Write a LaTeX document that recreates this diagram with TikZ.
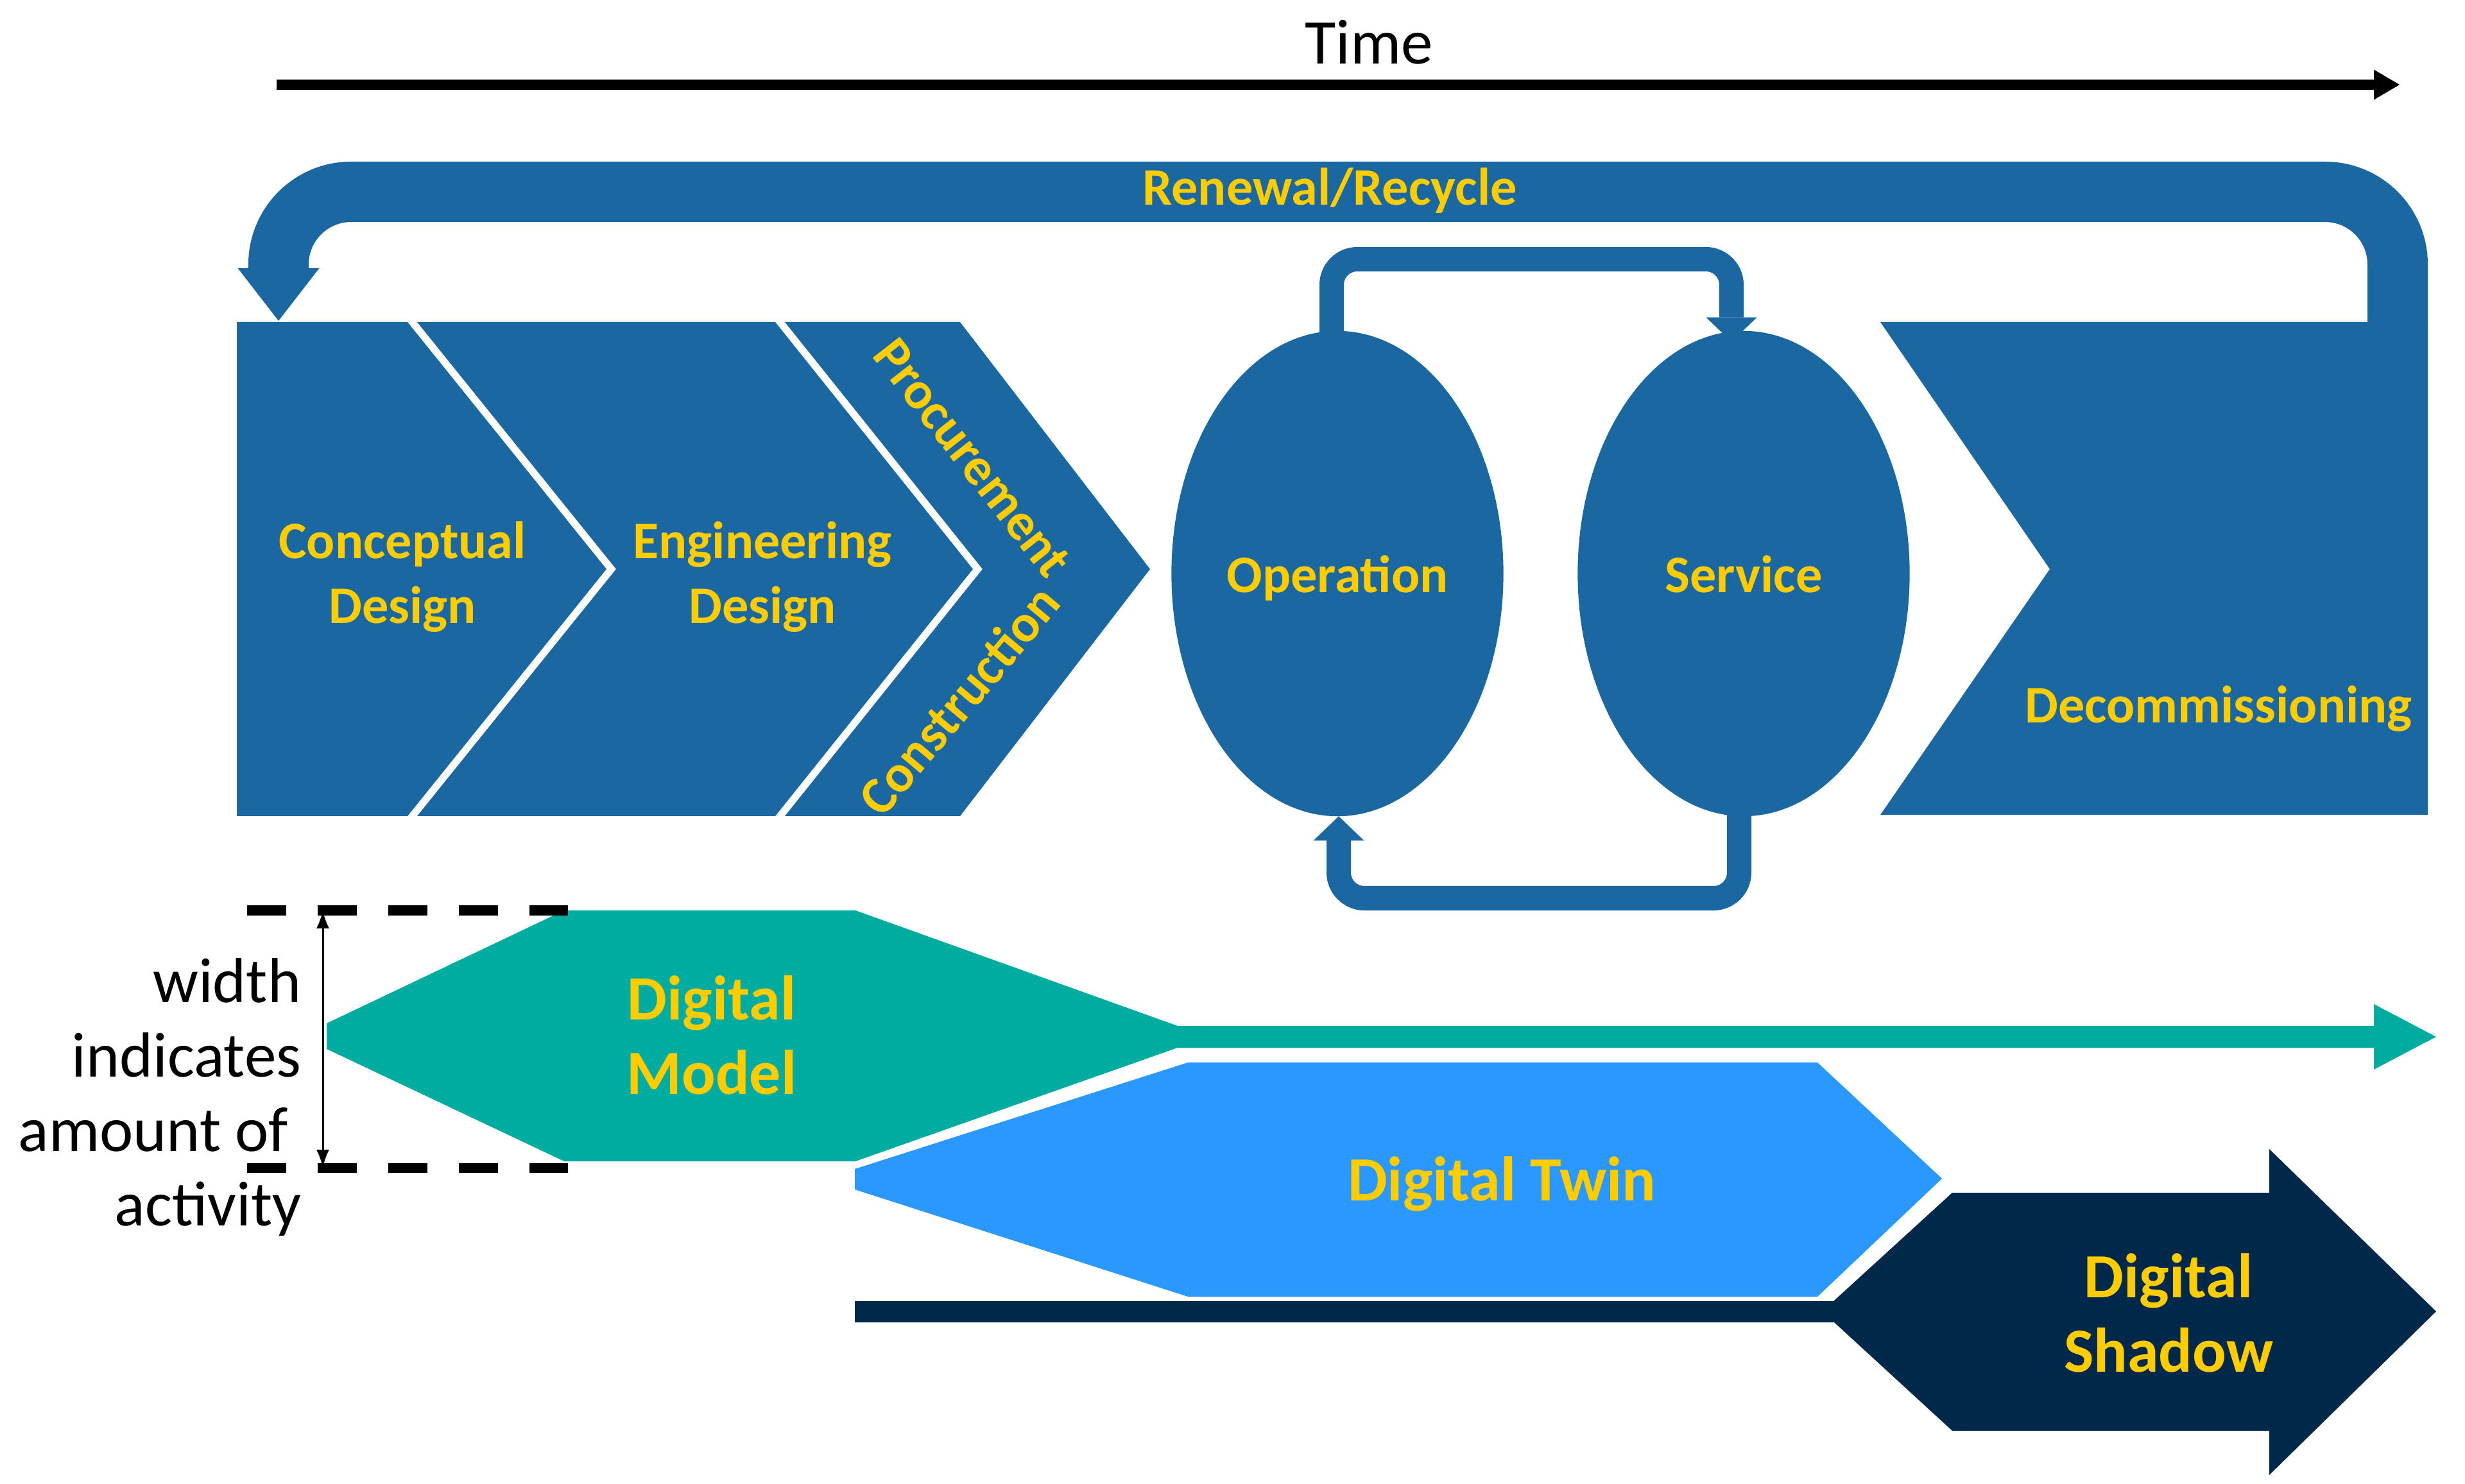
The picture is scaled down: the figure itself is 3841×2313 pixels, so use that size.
\documentclass[tikz,border=0pt]{standalone}
\usepackage{xcolor}
\usepackage{tikz}
\usetikzlibrary{shapes, arrows.meta, positioning}
\usepackage{fontspec}
\setmainfont{Carlito}

\definecolor{phaseblue}{RGB}{26,103,161}
\definecolor{labelyellow}{RGB}{255,204,0}
\definecolor{modelteal}{RGB}{0,172,160}
\definecolor{twinblue}{RGB}{42,152,255}
\definecolor{shadownavy}{RGB}{0,40,75}

\begin{document}
\begin{tikzpicture}[x=0.01cm, y=-0.01cm,
    phaselabel/.style={text=labelyellow, font=\fontsize{23.4pt}{28.5pt}\selectfont\bfseries, align=center, inner sep=0pt},
    twinlabel/.style={text=labelyellow, font=\fontsize{27.9pt}{33pt}\selectfont\bfseries, align=center, inner sep=0pt},
    notelabel/.style={text=black, font=\fontsize{28.2pt}{33pt}\selectfont, align=right, inner sep=0pt},
    stagenode/.style={ellipse, fill=phaseblue, minimum width=5.17cm, minimum height=7.56cm, inner sep=0pt, outer sep=0pt, text height=0.74cm, text depth=0.16cm},
    renewband/.style={draw=phaseblue, line width=0.94cm, rounded corners=1.13cm, -{Triangle[width=1.27cm, length=0.82cm, line width=0pt]}},
    loopband/.style={draw=phaseblue, line width=0.38cm, rounded corners=0.4cm, -{Triangle[width=0.79cm, length=0.38cm, line width=0pt]}},
    timearrow/.style={draw=black, line width=0.16cm, -{Triangle[width=0.47cm, length=0.40cm, line width=0pt]}},
    spanline/.style={draw=black, line width=0.15cm, dash pattern=on 0.61cm off 0.49cm},
    spanarrow/.style={draw=black, line width=0.03cm, {Latex[length=0.28cm, width=0.2cm]}-{Latex[length=0.28cm, width=0.2cm]}}
]
    \useasboundingbox (0,0) rectangle (3841,2313);

    \coordinate (timestart) at (431,132);
    \coordinate (timeend) at (3739,132);
    \draw[timearrow] (timestart) -- (timeend);
    \node[notelabel, anchor=base] (time) at (2133,100) {Time};

    \fill[phaseblue] (369,502) -- (635,502) -- (945,887) -- (635,1272) -- (369,1272) -- cycle;
    \fill[phaseblue] (650,502) -- (1208,502) -- (1516,887) -- (1208,1272) -- (650,1272) -- (960,887) -- cycle;
    \fill[phaseblue] (1223,502) -- (1496,502) -- (1792,887) -- (1496,1272) -- (1223,1272) -- (1531,887) -- cycle;
    \fill[phaseblue] (2930,502) -- (3783,502) -- (3783,1270) -- (2930,1270) -- (3194,887) -- cycle;

    \node[phaselabel] (concept) at (627,899) {Conceptual\\Design};
    \node[phaselabel] (engineer) at (1188,899) {Engineering\\Design};
    \node[phaselabel, rotate=-52] (procure) at (1515,714) {Procurement};
    \node[phaselabel, rotate=50] (construct) at (1494,1091) {Construction};
    \node[phaselabel, anchor=base] (decom) at (3457,1127) {Decommissioning};

    \node[stagenode, phaselabel] (oper) at (2084,894) {Operation};
    \node[stagenode, phaselabel] (serv) at (2717,894) {Service};

    \coordinate (decomtop) at (3736,510);
    \coordinate (concepttop) at (434,500);
    \coordinate (renewmid) at (2072,299);
    \draw[renewband] (decomtop) |- (renewmid) -| (concepttop);
    \node[phaselabel, anchor=base] (renew) at (2072,320) {Renewal/Recycle};

    \coordinate (looptop) at (2400,404);
    \coordinate (loopbot) at (2400,1400);
    \draw[loopband] ([shift={(-9,20)}]oper.north) |- (looptop) -| ([shift={(-19,17)}]serv.north);
    \draw[loopband] ([shift={(-7,-20)}]serv.south) |- (loopbot) -| ([shift={(2,0)}]oper.south);

    \fill[modelteal] (509,1595) -- (879,1419) -- (1333,1419) -- (1835,1599) -- (3699,1599) -- (3699,1565) -- (3796,1616) -- (3699,1667) -- (3699,1633) -- (1835,1633) -- (1333,1810) -- (879,1810) -- (509,1635) -- cycle;
    \fill[twinblue] (1332,1822) -- (1851,1656) -- (2832,1656) -- (3026,1837) -- (2832,2021) -- (1851,2021) -- (1332,1854) -- cycle;
    \fill[shadownavy] (1332,2028) -- (2857,2028) -- (3042,1859) -- (3536,1859) -- (3536,1791) -- (3796,2044) -- (3536,2299) -- (3536,2230) -- (3042,2230) -- (2858,2061) -- (1332,2061) -- cycle;

    \node[twinlabel] (model) at (1109,1613) {Digital\\Model};
    \node[twinlabel, anchor=base] (twin) at (2340,1871) {Digital Twin};
    \node[twinlabel] (shadow) at (3379,2046) {Digital\\Shadow};

    \coordinate (spantop) at (503,1419);
    \coordinate (spanbot) at (503,1820);
    \draw[spanline] (385,1419) -- (885,1419);
    \draw[spanline] (385,1820) -- (885,1820);
    \draw[spanarrow] (spantop) -- (spanbot);
    \node[notelabel, anchor=east] (widthnote) at (470,1710) {width\\indicates\\amount of\kern0.2cm\\activity};
\end{tikzpicture}
\end{document}
